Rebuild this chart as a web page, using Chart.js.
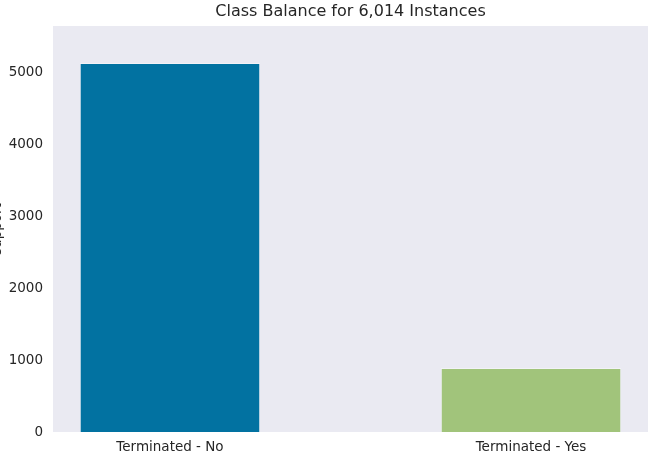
<!DOCTYPE html>
<html lang="en">
  <head>
    <meta charset="UTF-8" />
    <title>Class Balance</title>
    <script src="https://cdn.jsdelivr.net/npm/chart.js"></script>
    <style>
      html, body {
        margin: 0;
        padding: 0;
        background: #ffffff;
        overflow: hidden;
      }
      #wrap {
        position: absolute;
        left: -11px;
        top: 0;
        width: 669px;
        height: 463px;
      }
    </style>
  </head>
  <body>
    <div id="wrap"><canvas id="balanceChart"></canvas></div>

    <script>
      const categories = ["Terminated - No", "Terminated - Yes"];
      const support = [5125, 889];
      const barColors = ["#0272a1", "#a1c47b"];
      const yTicks = [0, 1000, 2000, 3000, 4000, 5000];
      const chartTitle = "Class Balance for 6,014 Instances";

      // grey axes background like seaborn
      const plotBackground = {
        id: "plotBackground",
        beforeDraw(chart) {
          const { ctx, chartArea } = chart;
          ctx.save();
          ctx.fillStyle = "#eaeaf2";
          ctx.fillRect(chartArea.left, chartArea.top, chartArea.right - chartArea.left, chartArea.bottom - chartArea.top);
          ctx.restore();
        },
      };

      const textColor = "#262626";
      const font = "'DejaVu Sans', sans-serif";

      new Chart(document.getElementById("balanceChart"), {
        type: "bar",
        data: {
          datasets: [
            {
              label: "support",
              data: support.map((v, i) => ({ x: i, y: v })),
              backgroundColor: barColors,
              borderColor: "rgba(255,255,255,0.4)",
              borderWidth: 1,
              categoryPercentage: 1,
              barPercentage: 0.5,
            },
          ],
        },
        options: {
          responsive: true,
          maintainAspectRatio: false,
          animation: false,
          layout: { padding: { right: 10, left: 0, top: 0, bottom: 0 } },
          plugins: {
            legend: { display: false },
            tooltip: { enabled: false },
          },
          scales: {
            x: {
              type: "linear",
              offset: false,
              min: -0.324,
              max: 1.324,
              grid: { display: false, drawTicks: false },
              border: { display: false },
              afterBuildTicks: (scale) => {
                scale.ticks = categories.map((c, i) => ({ value: i }));
              },
              afterFit: (scale) => {
                scale.height = 31;
              },
              ticks: {
                color: textColor,
                font: { family: font, size: 13.5 },
                padding: 7,
                maxRotation: 0,
                callback: (v) => categories[v],
              },
            },
            // top axis only carries the title, centred over the plot area
            xTop: {
              type: "linear",
              position: "top",
              offset: false,
              min: -0.324,
              max: 1.324,
              grid: { display: false, drawTicks: false },
              border: { display: false },
              ticks: { display: false },
              afterFit: (scale) => {
                scale.height = 26;
              },
              title: {
                display: true,
                text: chartTitle,
                color: textColor,
                font: { family: font, size: 16 },
                padding: { top: 2, bottom: 4 },
              },
            },
            y: {
              min: 0,
              max: 5640,
              grid: { display: false, drawTicks: false },
              border: { display: false },
              afterBuildTicks: (scale) => {
                scale.ticks = yTicks.map((v) => ({ value: v }));
              },
              afterFit: (scale) => {
                scale.width = 64;
              },
              title: {
                display: true,
                text: "support",
                color: textColor,
                font: { family: font, size: 13.5 },
                padding: { top: 0, bottom: 4 },
              },
              ticks: {
                color: textColor,
                font: { family: font, size: 13.5 },
                padding: 10,
                callback: (v) => String(v),
              },
            },
          },
        },
        plugins: [plotBackground],
      });
    </script>
  </body>
</html>
